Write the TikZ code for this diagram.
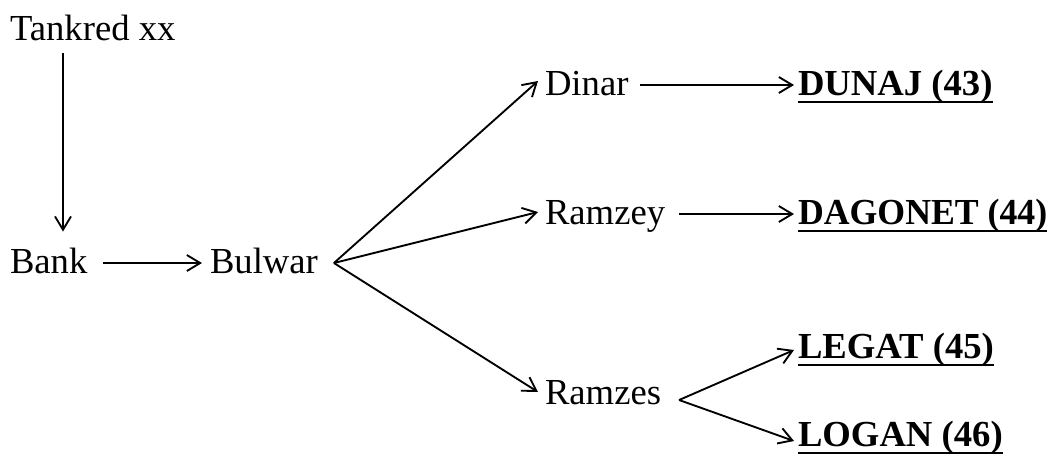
\documentclass[tikz,border=0pt]{standalone}
\usepackage{fontspec}
\setmainfont{Liberation Serif}
\usetikzlibrary{arrows.meta,calc}
\begin{document}
\begin{tikzpicture}[x=0.75pt,y=-0.75pt,
  lbl/.style={anchor=base west,inner sep=0pt,outer sep=0pt,font=\fontsize{27.5}{31}\selectfont},
  res/.style={lbl,font=\fontsize{27.5}{31}\selectfont\bfseries},
  arr/.style={line width=1.4pt,-{Straight Barb[length=10pt,width=12pt,line width=1.4pt]}},
  ul/.style={line width=1pt}]
\useasboundingbox (0,0) rectangle (1053,458);
\node[lbl] (tankred) at (10,40) {Tankred xx};
\node[lbl] (bank) at (10,273) {Bank};
\node[lbl] (bulwar) at (210,273) {Bulwar};
\node[lbl] (dinar) at (545,95) {Dinar};
\node[lbl] (ramzey) at (545,224) {Ramzey};
\node[lbl] (ramzes) at (545,404) {Ramzes};
\node[res] (dunaj) at (798,95) {DUNAJ (43)};
\node[res] (dagonet) at (798,224) {\scalebox{0.975}[1]{DAGONET (44)}};
\node[res] (legat) at (798,358) {LEGAT (45)};
\node[res] (logan) at (798,446) {LOGAN (46)};
\foreach \n in {dunaj,dagonet,legat,logan}
  \draw[ul] ($(\n.base west)+(0,7)$) -- ($(\n.base east)+(0,7)$);
\coordinate (fan1) at ($(bulwar.base east)+(16,-10)$);
\coordinate (fan2) at ($(ramzes.base east)+(18,-4)$);
\draw[arr] ($(tankred.base west)+(53,13)$) -- ($(bank.north west)+(53,-16)$);
\draw[arr] ($(bank.base east)+(16,-10)$) -- ($(bulwar.base west)+(-8,-10)$);
\draw[arr] (fan1) -- ($(dinar.base west)+(-7,-14)$);
\draw[arr] (fan1) -- ($(ramzey.base west)+(-7,-12)$);
\draw[arr] (fan1) -- ($(ramzes.base west)+(-7,-12)$);
\draw[arr] ($(dinar.base east)+(12,-10)$) -- ($(dunaj.base west)+(-4,-10)$);
\draw[arr] ($(ramzey.base east)+(14,-10)$) -- ($(dagonet.base west)+(-4,-10)$);
\draw[arr] (fan2) -- ($(legat.base west)+(-4,-8)$);
\draw[arr] (fan2) -- ($(logan.base west)+(-4,-5)$);
\end{tikzpicture}
\end{document}
